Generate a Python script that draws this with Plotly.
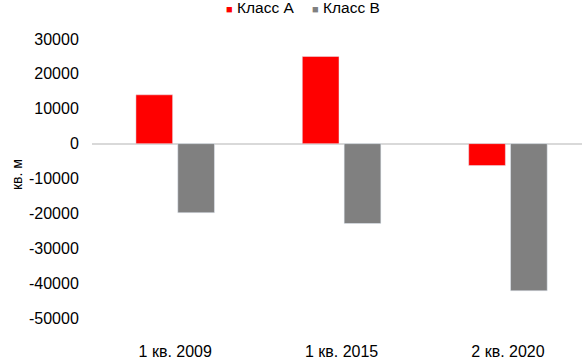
import plotly.graph_objects as go

categories = ["1 кв. 2009", "1 кв. 2015", "2 кв. 2020"]
class_a = [14000, 25000, -6300]
class_b = [-19800, -22900, -42200]
y_ticks = [30000, 20000, 10000, 0, -10000, -20000, -30000, -40000, -50000]
y_tick_labels = [str(v) for v in y_ticks]
series_names = ["Класс A", "Класс B"]
series_colors = ["#FF0000", "#808080"]

W, H = 582, 363
ml, mr, mt, mb = 92, 0, 39, 45
pw, ph = W - ml - mr, H - mt - mb

fig = go.Figure()
for name, vals, col in zip(series_names, [class_a, class_b], series_colors):
    fig.add_trace(go.Bar(x=categories, y=vals, name=name, marker_color=col, showlegend=False))

font = "Liberation Sans, Arial, sans-serif"

# legend built from text (small coloured squares + labels)
legend_left_px = [224, 310]
annotations = []
for name, col, lx in zip(series_names, series_colors, legend_left_px):
    annotations.append(dict(
        text=f"<span style='font-size:11px;color:{col}'>■</span> {name}",
        xref="paper", yref="paper", x=(lx - ml) / pw, y=(H - mb - 8) / ph,
        xanchor="left", yanchor="middle", showarrow=False,
        font=dict(size=15.5, color="#000000", family=font)))
annotations.append(dict(text="кв. м", xref="paper", yref="paper",
                        x=(17 - ml) / pw, y=(H - mb - 175) / ph, xanchor="center", yanchor="middle",
                        textangle=-90, showarrow=False,
                        font=dict(size=14, color="#000000", family=font)))

fig.update_layout(
    width=W, height=H,
    margin=dict(l=ml, r=mr, t=mt, b=mb, pad=0, autoexpand=False),
    paper_bgcolor="white", plot_bgcolor="white",
    barmode="group", bargap=0.497, bargroupgap=0.123,
    font=dict(family=font, size=16, color="#000000"),
    showlegend=False,
    xaxis=dict(range=[-0.5, 2.445], showgrid=False, showline=False, zeroline=False,
               ticks="outside", automargin=False,
               ticklen=19, tickcolor="rgba(0,0,0,0)", tickfont=dict(size=16)),
    yaxis=dict(range=[-50000, 30000], tickvals=y_ticks, ticktext=y_tick_labels,
               showgrid=False, showline=False, automargin=False,
               zeroline=True, zerolinecolor="#D9D9D9", zerolinewidth=1.5,
               ticks="outside", ticklen=9, tickcolor="rgba(0,0,0,0)",
               tickfont=dict(size=16)),
    annotations=annotations,
)
fig.write_html("out.html", config={"displayModeBar": False},
               post_script="document.body.style.margin='0';document.body.style.overflow='hidden';")
